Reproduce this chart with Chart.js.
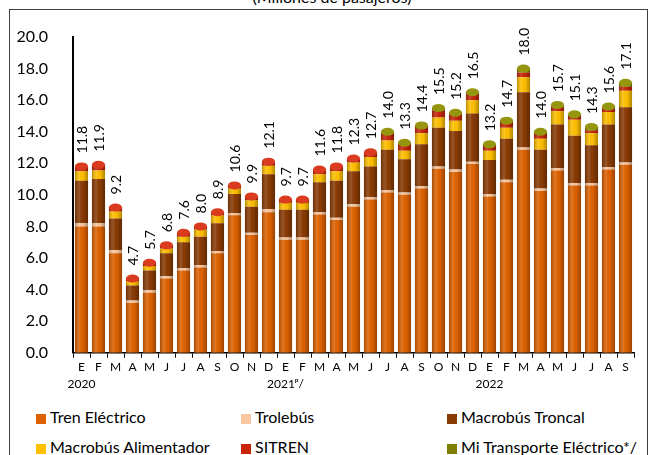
<!DOCTYPE html>
<html>
<head>
<meta charset="utf-8">
<script src="https://cdn.jsdelivr.net/npm/chart.js@4/dist/chart.umd.min.js"></script>
<style>
  body { margin: 0; background: #fff; font-family: Lato, "Open Sans", sans-serif; }
  #wrap { position: relative; width: 654px; height: 455px; overflow: hidden; }
  #marco { position: absolute; left: 9px; top: 9px; width: 639px; height: 460px; border: 1px solid #404040; box-sizing: border-box; }
  #titulo { position: absolute; left: 0; width: 664px; top: -11px; text-align: center; font-size: 16px; line-height: 16px; color: #000; }
  #grafica { position: absolute; left: 0; top: 0; }
  .leyenda { position: absolute; font-size: 16px; color: #000; white-space: nowrap; line-height: 16px; }
  .leyenda span { display: inline-block; width: 10px; height: 10px; margin-right: 4px; vertical-align: -1px; }
</style>
</head>
<body>
<div id="wrap">
  <div id="titulo">(Millones de pasajeros)</div>
  <div id="marco"></div>
  <canvas id="grafica" width="654" height="400"></canvas>
  <div id="leyenda"></div>
</div>
<script>
// Meses y años
const meses = ['E','F','M','A','M','J','J','A','S','O','N','D',
               'E','F','M','A','M','J','J','A','S','O','N','D',
               'E','F','M','A','M','J','J','A','S'];
const anios = ['2020', '2021ᵖ/', '2022'];

// Totales mostrados arriba de cada barra
const totales = [11.8, 11.9, 9.2, 4.7, 5.7, 6.8, 7.6, 8.0, 8.9, 10.6, 9.9, 12.1,
                 9.7, 9.7, 11.6, 11.8, 12.3, 12.7, 14.0, 13.3, 14.4, 15.5, 15.2, 16.5,
                 13.2, 14.7, 18.0, 14.0, 15.7, 15.1, 14.3, 15.6, 17.1];

// Series (millones de pasajeros)
const trenElectrico = [8.0, 8.0, 6.3, 3.15, 3.8, 4.7, 5.2, 5.4, 6.3, 8.7, 7.45, 8.9,
                       7.15, 7.15, 8.75, 8.4, 9.25, 9.7, 10.15, 10.0, 10.4, 11.65, 11.45, 11.95,
                       9.9, 10.8, 12.85, 10.25, 11.55, 10.6, 10.6, 11.6, 11.9];
const trolebus = [0.2, 0.2, 0.2, 0.15, 0.15, 0.15, 0.15, 0.15, 0.15, 0.15, 0.15, 0.2,
                  0.15, 0.15, 0.15, 0.15, 0.15, 0.15, 0.15, 0.15, 0.15, 0.15, 0.15, 0.15,
                  0.15, 0.15, 0.15, 0.15, 0.15, 0.15, 0.15, 0.15, 0.15];
const macrobusTroncal = [2.7, 2.8, 2.0, 0.95, 1.25, 1.45, 1.65, 1.8, 1.75, 1.2, 1.65, 2.2,
                         1.75, 1.75, 1.9, 2.35, 2.1, 1.95, 2.55, 2.1, 2.65, 2.45, 2.45, 3.05,
                         2.15, 2.6, 3.5, 2.45, 2.75, 3.0, 2.4, 2.7, 3.5];
const macrobusAlimentador = [0.6, 0.55, 0.45, 0.3, 0.3, 0.3, 0.35, 0.45, 0.5, 0.35, 0.4, 0.55,
                             0.45, 0.45, 0.5, 0.6, 0.55, 0.6, 0.6, 0.55, 0.7, 0.65, 0.65, 0.85,
                             0.6, 0.7, 0.95, 0.7, 0.85, 1.0, 0.75, 0.8, 1.05];
const sitren = [0.3, 0.35, 0.25, 0.15, 0.2, 0.2, 0.25, 0.2, 0.2, 0.2, 0.25, 0.25,
                0.2, 0.2, 0.3, 0.3, 0.25, 0.3, 0.4, 0.45, 0.4, 0.45, 0.4, 0.4,
                0.3, 0.3, 0.3, 0.3, 0.25, 0.25, 0.2, 0.2, 0.25];
const miTransporte = [0, 0, 0, 0, 0, 0, 0, 0, 0, 0, 0, 0,
                      0, 0, 0, 0, 0, 0, 0.15, 0.05, 0.1, 0.15, 0.1, 0.1,
                      0.1, 0.15, 0.25, 0.15, 0.15, 0.1, 0.2, 0.15, 0.25];

const series = [
  { nombre: 'Tren Eléctrico', datos: trenElectrico, color: '#DF6200', tapa: '#F07A1E' },
  { nombre: 'Trolebús', datos: trolebus, color: '#F9C8A2', tapa: '#FCD9BC' },
  { nombre: 'Macrobús Troncal', datos: macrobusTroncal, color: '#8A3B04', tapa: '#A0500F' },
  { nombre: 'Macrobús Alimentador', datos: macrobusAlimentador, color: '#FFC000', tapa: '#FFD040' },
  { nombre: 'SITREN', datos: sitren, color: '#C8250C', tapa: '#DA3A1E' },
  { nombre: 'Mi Transporte Eléctrico*/', datos: miTransporte, color: '#7E7E00', tapa: '#959510' }
];

const etiquetas = meses.map((m, i) => (i % 12 === 0 ? [m, anios[i / 12]] : m));

// Sombreado de cilindro y tapas
const cilindros = {
  id: 'cilindros',
  afterDatasetsDraw(chart) {
    const ctx = chart.ctx;
    ctx.save();
    chart.data.datasets.forEach((ds, d) => {
      chart.getDatasetMeta(d).data.forEach((bar, i) => {
        if (!ds.data[i]) return;
        const w = bar.width, x0 = bar.x - w / 2;
        const g = ctx.createLinearGradient(x0, 0, x0 + w, 0);
        g.addColorStop(0, 'rgba(0,0,0,0.28)');
        g.addColorStop(0.35, 'rgba(255,255,255,0.12)');
        g.addColorStop(0.6, 'rgba(0,0,0,0)');
        g.addColorStop(1, 'rgba(0,0,0,0.3)');
        ctx.fillStyle = g;
        ctx.fillRect(x0, bar.y, w, bar.base - bar.y);
      });
    });
    // tapas superiores
    for (let i = 0; i < totales.length; i++) {
      let top = null, s = null;
      chart.data.datasets.forEach((ds, d) => {
        if (ds.data[i] > 0) { top = chart.getDatasetMeta(d).data[i]; s = series[d]; }
      });
      if (!top) continue;
      ctx.fillStyle = s.tapa;
      ctx.beginPath();
      ctx.ellipse(top.x, top.y, top.width / 2, 4, 0, 0, Math.PI * 2);
      ctx.fill();
      // etiqueta del total
      ctx.save();
      ctx.translate(top.x + 1, top.y - 13);
      ctx.rotate(-Math.PI / 2);
      ctx.fillStyle = '#000';
      ctx.font = '14px Lato';
      ctx.textAlign = 'left';
      ctx.textBaseline = 'middle';
      ctx.fillText(totales[i].toFixed(1), 0, 0);
      ctx.restore();
    }
    ctx.restore();
  }
};

new Chart(document.getElementById('grafica'), {
  type: 'bar',
  data: {
    labels: etiquetas,
    datasets: series.map(s => ({
      label: s.nombre,
      data: s.datos,
      backgroundColor: s.color,
      borderWidth: 0,
      barPercentage: 0.77,
      categoryPercentage: 1
    }))
  },
  options: {
    responsive: false,
    animation: false,
    layout: { padding: { top: 37, right: 20, left: 0, bottom: 0 } },
    plugins: { legend: { display: false }, tooltip: { enabled: false } },
    scales: {
      x: {
        stacked: true,
        afterFit: s => { s.height = 47.3; },
        grid: { drawOnChartArea: false, color: '#000', tickLength: 5, lineWidth: 1 },
        border: { color: '#000', width: 1.5 },
        ticks: { autoSkip: false, maxRotation: 0, padding: 1, color: '#000',
                 font: { family: 'Lato', size: 12, lineHeight: 1.4 } }
      },
      y: {
        stacked: true,
        min: 0, max: 20,
        afterFit: s => { s.width = 73; },
        grid: { display: false },
        border: { color: '#000', width: 2 },
        ticks: { stepSize: 2, padding: 17, color: '#000',
                 callback: v => v.toFixed(1),
                 font: { family: 'Lato', size: 16 } }
      }
    }
  },
  plugins: [cilindros]
});

// Leyenda en tres columnas
const posiciones = [[36, 409], [241, 409], [447, 409], [36, 439], [241, 439], [447, 439]];
const leyenda = document.getElementById('leyenda');
series.forEach((s, k) => {
  const item = document.createElement('div');
  item.className = 'leyenda';
  item.style.left = posiciones[k][0] + 'px';
  item.style.top = posiciones[k][1] + 'px';
  item.innerHTML = `<span style="background:${s.color}"></span>${s.nombre}`;
  leyenda.appendChild(item);
});
</script>
</body>
</html>
